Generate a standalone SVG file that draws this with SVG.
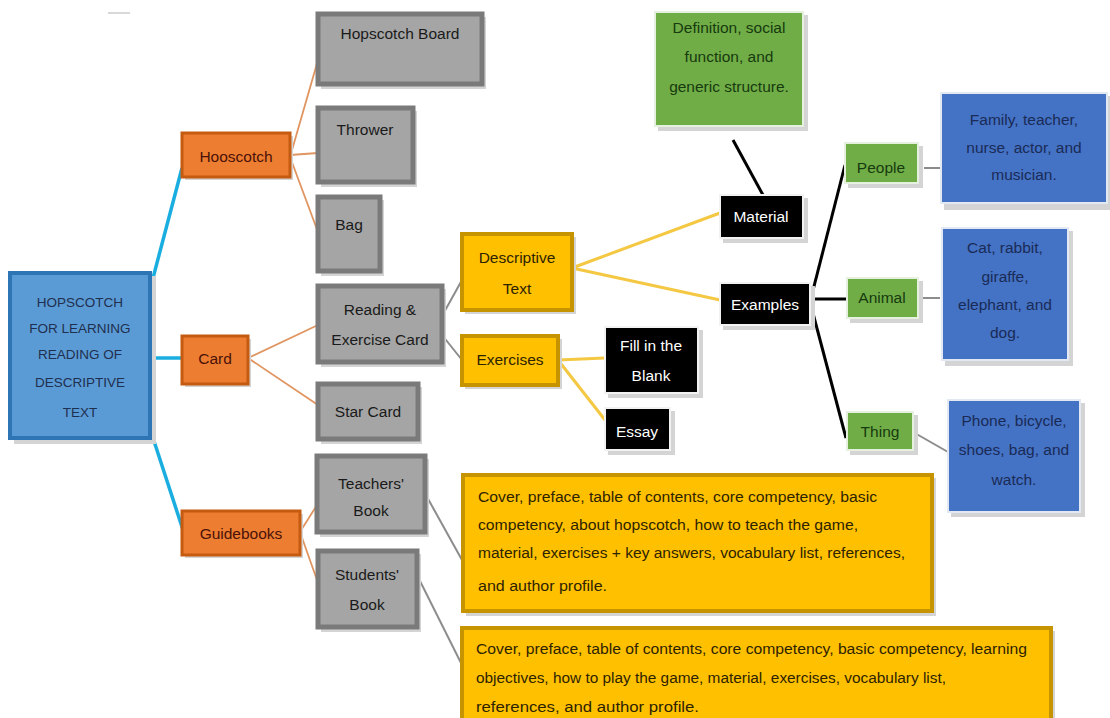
<svg xmlns="http://www.w3.org/2000/svg" width="1110" height="718" viewBox="0 0 1110 718">
<style>
text{font-family:"Liberation Sans",Arial,sans-serif;font-size:15.5px;text-anchor:middle;}
.sh{fill:#d4d4d4;}
.root{fill:#5B9BD5;stroke:#2E75B6;stroke-width:4;}
.root-t{fill:#1F2F4F;font-size:13.5px;}
.or{fill:#ED7D31;stroke:#C55A11;stroke-width:3;}
.or-t{fill:#4A1208;}
.gr{fill:#A5A5A5;stroke:#7A7A7A;stroke-width:5;}
.gr-t{fill:#1a1a1a;}
.ye{fill:#FFC000;stroke:#C59400;stroke-width:4;}
.ye-t{fill:#2E2300;}
.bk{fill:#000;stroke:#f2f2f2;stroke-width:2;}
.bk-t{fill:#fff;}
.gn{fill:#70AD47;stroke:#e6f0de;stroke-width:2;}
.gn-t{fill:#173A0E;}
.bl{fill:#4472C4;stroke:#e3e9f3;stroke-width:2;}
.bl-t{fill:#1A2B57;}
.big-t{fill:#2E2300;text-anchor:start;font-size:15.5px;}
.c-blue{stroke:#1AAEE0;stroke-width:3.5;fill:none;}
.c-or{stroke:#E09560;stroke-width:1.8;fill:none;}
.c-gray{stroke:#8c8c8c;stroke-width:2;fill:none;}
.c-ye{stroke:#F4C842;stroke-width:3;fill:none;}
.c-bk{stroke:#000;stroke-width:3;fill:none;}
.c-thin{stroke:#666;stroke-width:1.5;fill:none;}
</style>
<rect width="1110" height="718" fill="#fff"/>
<line x1="108" y1="13" x2="130" y2="13" stroke="#d8d8d8" stroke-width="2"/>

<g id="connectors">
<line class="c-blue" x1="153" y1="278" x2="182" y2="168"/>
<line class="c-blue" x1="150" y1="358" x2="182" y2="358"/>
<line class="c-blue" x1="153" y1="438" x2="183" y2="530"/>
<line class="c-or" x1="290" y1="157" x2="318" y2="60"/>
<line class="c-or" x1="290" y1="155" x2="318" y2="153"/>
<line class="c-or" x1="290" y1="157" x2="318" y2="232"/>
<line class="c-or" x1="248" y1="358" x2="318" y2="325"/>
<line class="c-or" x1="248" y1="358" x2="318" y2="405"/>
<line class="c-or" x1="300" y1="532" x2="317" y2="505"/>
<line class="c-or" x1="300" y1="532" x2="317" y2="580"/>
<line class="c-gray" x1="442" y1="316" x2="462" y2="280"/>
<line class="c-gray" x1="442" y1="335" x2="462" y2="360"/>
<line class="c-ye" x1="572" y1="268" x2="720" y2="213"/>
<line class="c-ye" x1="572" y1="268" x2="720" y2="300"/>
<line class="c-ye" x1="558" y1="360" x2="605" y2="358"/>
<line class="c-ye" x1="558" y1="360" x2="605" y2="420"/>
<line class="c-bk" x1="733" y1="140" x2="763" y2="195"/>
<line class="c-bk" x1="810" y1="302" x2="845" y2="165"/>
<line class="c-bk" x1="810" y1="299" x2="847" y2="299"/>
<line class="c-bk" x1="810" y1="302" x2="846" y2="438"/>
<line class="c-thin" x1="924" y1="168" x2="941" y2="168"/>
<line class="c-thin" x1="920" y1="298" x2="940" y2="298"/>
<line class="c-gray" x1="913" y1="432" x2="948" y2="452" stroke-width="1.5"/>
<line class="c-gray" x1="427" y1="497" x2="462" y2="560"/>
<line class="c-gray" x1="418" y1="577" x2="462" y2="665"/>
</g>

<g id="root">
<rect class="sh" x="14" y="276" width="142" height="168"/>
<rect class="root" x="10" y="273" width="140" height="165"/>
<text class="root-t" x="80" y="307">HOPSCOTCH</text>
<text class="root-t" x="80" y="333">FOR LEARNING</text>
<text class="root-t" x="80" y="359">READING OF</text>
<text class="root-t" x="80" y="387">DESCRIPTIVE</text>
<text class="root-t" x="80" y="417">TEXT</text>
</g>

<g id="hooscotch">
<rect class="sh" x="185" y="136" width="108" height="44"/>
<rect class="or" x="182" y="133" width="108" height="44"/>
<text class="or-t" x="236" y="162">Hooscotch</text>
</g>
<g id="card">
<rect class="sh" x="185" y="339" width="66" height="48"/>
<rect class="or" x="182" y="336" width="66" height="48"/>
<text class="or-t" x="215" y="364">Card</text>
</g>
<g id="guidebooks">
<rect class="sh" x="185" y="514" width="118" height="44"/>
<rect class="or" x="182" y="511" width="118" height="44"/>
<text class="or-t" x="241" y="539">Guidebooks</text>
</g>

<g id="hopscotch-board">
<rect class="sh" x="321" y="17" width="165" height="72"/>
<rect class="gr" x="318" y="14" width="164" height="70"/>
<text class="gr-t" x="400" y="39">Hopscotch Board</text>
</g>
<g id="thrower">
<rect class="sh" x="321" y="111" width="96" height="76"/>
<rect class="gr" x="318" y="108" width="95" height="74"/>
<text class="gr-t" x="365" y="135">Thrower</text>
</g>
<g id="bag">
<rect class="sh" x="321" y="200" width="63" height="76"/>
<rect class="gr" x="318" y="197" width="62" height="74"/>
<text class="gr-t" x="349" y="230">Bag</text>
</g>
<g id="reading-card">
<rect class="sh" x="321" y="289" width="125" height="78"/>
<rect class="gr" x="318" y="286" width="124" height="76"/>
<text class="gr-t" x="380" y="315">Reading &amp;</text>
<text class="gr-t" x="380" y="345">Exercise Card</text>
</g>
<g id="star-card">
<rect class="sh" x="321" y="387" width="101" height="57"/>
<rect class="gr" x="318" y="384" width="100" height="55"/>
<text class="gr-t" x="368" y="417">Star Card</text>
</g>
<g id="teachers-book">
<rect class="sh" x="320" y="459" width="109" height="78"/>
<rect class="gr" x="317" y="456" width="108" height="76"/>
<text class="gr-t" x="371" y="489">Teachers'</text>
<text class="gr-t" x="371" y="516">Book</text>
</g>
<g id="students-book">
<rect class="sh" x="321" y="554" width="100" height="78"/>
<rect class="gr" x="318" y="551" width="99" height="76"/>
<text class="gr-t" x="367" y="580">Students'</text>
<text class="gr-t" x="367" y="610">Book</text>
</g>

<g id="descriptive-text">
<rect class="sh" x="465" y="237" width="111" height="77"/>
<rect class="ye" x="462" y="234" width="110" height="76"/>
<text class="ye-t" x="517" y="263">Descriptive</text>
<text class="ye-t" x="517" y="294">Text</text>
</g>
<g id="exercises">
<rect class="sh" x="465" y="339" width="97" height="50"/>
<rect class="ye" x="462" y="336" width="96" height="49"/>
<text class="ye-t" x="510" y="365">Exercises</text>
</g>

<g id="fill-blank">
<rect class="sh" x="608" y="330" width="95" height="68"/>
<rect class="bk" x="605" y="327" width="93" height="66"/>
<text class="bk-t" x="651" y="351">Fill in the</text>
<text class="bk-t" x="651" y="381">Blank</text>
</g>
<g id="essay">
<rect class="sh" x="608" y="411" width="67" height="44"/>
<rect class="bk" x="605" y="408" width="65" height="42"/>
<text class="bk-t" x="637" y="437">Essay</text>
</g>
<g id="material">
<rect class="sh" x="723" y="198" width="85" height="45"/>
<rect class="bk" x="720" y="195" width="83" height="43"/>
<text class="bk-t" x="761" y="222">Material</text>
</g>
<g id="examples">
<rect class="sh" x="723" y="286" width="92" height="44"/>
<rect class="bk" x="720" y="283" width="90" height="42"/>
<text class="bk-t" x="765" y="310">Examples</text>
</g>

<g id="definition">
<rect class="sh" x="658" y="15" width="150" height="116"/>
<rect class="gn" x="655" y="12" width="148" height="114"/>
<text class="gn-t" x="729" y="33">Definition, social</text>
<text class="gn-t" x="729" y="62">function, and</text>
<text class="gn-t" x="729" y="92">generic structure.</text>
</g>
<g id="people">
<rect class="sh" x="848" y="146" width="75" height="42"/>
<rect class="gn" x="845" y="143" width="73" height="40"/>
<text class="gn-t" x="881" y="173">People</text>
</g>
<g id="animal">
<rect class="sh" x="850" y="281" width="73" height="42"/>
<rect class="gn" x="847" y="278" width="71" height="40"/>
<text class="gn-t" x="882" y="303">Animal</text>
</g>
<g id="thing">
<rect class="sh" x="850" y="415" width="68" height="40"/>
<rect class="gn" x="847" y="412" width="66" height="38"/>
<text class="gn-t" x="880" y="437">Thing</text>
</g>

<g id="family">
<rect class="sh" x="944" y="96" width="166" height="114"/>
<rect class="bl" x="941" y="93" width="166" height="110"/>
<text class="bl-t" x="1024" y="125">Family, teacher,</text>
<text class="bl-t" x="1024" y="153">nurse, actor, and</text>
<text class="bl-t" x="1024" y="180">musician.</text>
</g>
<g id="cat">
<rect class="sh" x="945" y="231" width="128" height="135"/>
<rect class="bl" x="942" y="228" width="126" height="132"/>
<text class="bl-t" x="1005" y="253">Cat, rabbit,</text>
<text class="bl-t" x="1005" y="282">giraffe,</text>
<text class="bl-t" x="1005" y="310">elephant, and</text>
<text class="bl-t" x="1005" y="338">dog.</text>
</g>
<g id="phone">
<rect class="sh" x="951" y="403" width="134" height="114"/>
<rect class="bl" x="948" y="400" width="132" height="112"/>
<text class="bl-t" x="1014" y="426">Phone, bicycle,</text>
<text class="bl-t" x="1014" y="455">shoes, bag, and</text>
<text class="bl-t" x="1014" y="485">watch.</text>
</g>

<g id="teachers-contents">
<rect class="sh" x="466" y="478" width="470" height="138"/>
<rect class="ye" x="463" y="475" width="469" height="136"/>
<text class="big-t" x="478" y="502" textLength="399" lengthAdjust="spacingAndGlyphs">Cover, preface, table of contents, core competency, basic</text>
<text class="big-t" x="478" y="530" textLength="380" lengthAdjust="spacingAndGlyphs">competency, about hopscotch, how to teach the game,</text>
<text class="big-t" x="478" y="558" textLength="427" lengthAdjust="spacingAndGlyphs">material, exercises + key answers, vocabulary list, references,</text>
<text class="big-t" x="478" y="591" textLength="129" lengthAdjust="spacingAndGlyphs">and author profile.</text>
</g>
<g id="students-contents">
<rect class="sh" x="465" y="631" width="590" height="100"/>
<rect class="ye" x="462" y="628" width="589" height="100"/>
<text class="big-t" x="476" y="654" textLength="551" lengthAdjust="spacingAndGlyphs">Cover, preface, table of contents, core competency, basic competency, learning</text>
<text class="big-t" x="476" y="683" textLength="470" lengthAdjust="spacingAndGlyphs">objectives, how to play the game, material, exercises, vocabulary list,</text>
<text class="big-t" x="476" y="712" textLength="223" lengthAdjust="spacingAndGlyphs">references, and author profile.</text>
</g>
</svg>
